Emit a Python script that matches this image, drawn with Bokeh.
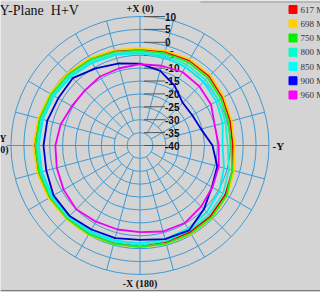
import numpy as np
from bokeh.plotting import figure
from bokeh.models import Range1d
from bokeh.core.properties import value
from bokeh.embed import file_html
from bokeh.resources import INLINE

# ---- data (dB, angle in degrees counter-clockwise from +X at top) ----
angles = [0, 15, 30, 45, 60, 75, 90, 105, 120, 135, 150, 165,
          180, 195, 210, 225, 240, 255, 270, 285, 300, 315, 330, 345]
series_names = ["617 MHz", "698 MHz", "750 MHz", "800 MHz", "850 MHz", "900 MHz", "960 MHz"]
series_colors = ["#ff0000", "#ffd000", "#00f000", "#00ffcc", "#00ffff", "#0000ff", "#ff00ff"]
line_colors = ["#e00000", "#ffd000", "#20ee20", "#20f0c8", "#00f0f0", "#0000cc", "#f000f0"]
db_617 = [-2.7, -2.0, -1.3, -0.7, -0.1, 0.4, 0.8, 0.8, 0.5, 0.0, -0.5, -0.9,
          -1.1, -1.1, -1.2, -1.3, -1.8, -2.9, -4.0, -3.8, -3.0, -2.0, -1.9, -2.3]
db_698 = [-2.3, -1.6, -0.9, -0.3, 0.2, 0.8, 1.3, 1.2, 0.9, 0.4, 0.0, -0.4,
          -0.6, -0.5, -0.3, -0.4, -1.0, -2.2, -3.4, -3.2, -2.5, -1.5, -1.4, -1.9]
db_750 = [-3.2, -2.4, -1.6, -0.9, -0.3, 0.2, 0.5, 0.5, 0.3, 0.0, -0.3, -0.5,
          -0.6, -0.6, -0.6, -0.7, -1.2, -3.0, -4.7, -4.5, -3.8, -2.9, -2.7, -3.0]
db_800 = [-3.8, -3.0, -2.3, -1.6, -1.0, -0.5, -0.2, -0.2, -0.3, -0.6, -1.0, -1.3,
          -1.4, -1.6, -1.9, -2.2, -2.8, -4.3, -6.0, -5.7, -4.8, -4.0, -3.8, -3.8]
db_850 = [-4.3, -3.6, -3.0, -2.2, -1.5, -1.0, -0.8, -0.7, -0.8, -1.2, -1.6, -1.9,
          -2.1, -2.4, -2.8, -3.4, -4.5, -6.3, -8.0, -6.8, -5.8, -5.2, -4.8, -4.5]
db_900 = [-8.3, -7.1, -5.5, -3.1, -3.4, -2.8, -2.6, -2.4, -1.3, -1.4, -2.4, -2.8,
          -3.4, -2.4, -2.0, -5.0, -7.8, -9.0, -11.9, -15.5, -16.6, -16.6, -13.2, -10.0]
db_960 = [-8.5, -9.0, -9.1, -9.8, -9.5, -8.2, -7.2, -6.6, -5.8, -5.0, -5.9, -6.3,
          -6.4, -5.5, -5.3, -6.5, -7.6, -8.4, -9.5, -10.0, -8.2, -7.5, -7.1, -8.0]
series_db = [db_617, db_698, db_750, db_800, db_850, db_900, db_960]
ring_labels = ["10", "5", "0", "-5", "-10", "-15", "-20", "-25", "-30", "-35", "-40"]
ring_values = [10, 5, 0, -5, -10, -15, -20, -25, -30, -35, -40]

W, H = 320, 292
CX, CYP = 139.5, 145.0           # centre (pixel coordinates from top-left)
CY = H - CYP
RMIN, RMAX = -40.0, 10.0
ROUT = 129.0
K = ROUT / (RMAX - RMIN)
BG = "#d4d4d4"
GRID = "#3f9ad6"

def polar(db, ang):
    r = (np.asarray(db, float) - RMIN) * K
    t = np.radians(np.asarray(ang, float))
    return CX - r * np.sin(t), CY + r * np.cos(t)

p = figure(width=W, height=H, x_range=Range1d(0, W), y_range=Range1d(0, H),
           x_axis_type=None, y_axis_type=None, toolbar_location=None,
           output_backend="svg", min_border=0, background_fill_color=BG,
           border_fill_color=BG, outline_line_color=None)
p.grid.visible = False

# rings
ring_r = [(v - RMIN) * K for v in ring_values if v > RMIN]
p.circle(x=[CX] * len(ring_r), y=[CY] * len(ring_r), radius=ring_r,
         fill_color=None, line_color=GRID, line_width=1)

# spokes
xs, ys = [], []
for a in range(0, 360, 15):
    if a % 90 == 0:
        r0 = 0.0
    elif a % 30 == 0:
        r0 = K * 5
    else:
        r0 = K * 10
    r1 = ROUT + (4 if a == 90 else 0)
    t = np.radians(a)
    xs.append([CX - r0 * np.sin(t), CX - r1 * np.sin(t)])
    ys.append([CY + r0 * np.cos(t), CY + r1 * np.cos(t)])
p.multi_line(xs, ys, line_color=GRID, line_width=1)

# ring scale ticks and labels
for lab, v in zip(ring_labels, ring_values):
    yy = CY + (v - RMIN) * K
    p.line([CX + 4, CX + 25], [yy, yy], line_color="#555555", line_width=1)
p.text(x=[CX + 25] * len(ring_labels), y=[CY + (v - RMIN) * K for v in ring_values],
       text=ring_labels, text_font=value("Liberation Sans"), text_font_size="10px",
       text_font_style="bold", text_baseline="middle", text_align="left", text_color="#111111")

# data curves
for db, col in zip(series_db, line_colors):
    x, y = polar(db + [db[0]], angles + [angles[0] + 360])
    p.line(x, y, line_color=col, line_width=1.8)

# titles / axis names
p.text(x=[-1], y=[H - 10], text=["Y-Plane\u00a0\u00a0H+V"], text_font=value("Liberation Serif"),
       text_font_size="14px", text_baseline="middle", text_color="#111111")
p.text(x=[CX], y=[H - 8], text=["+X (0)"], text_font=value("Liberation Serif"),
       text_font_size="10px", text_font_style="bold", text_align="center",
       text_baseline="middle", text_color="#111111")
p.text(x=[CX], y=[H - 283], text=["-X (180)"], text_font=value("Liberation Serif"),
       text_font_size="10px", text_font_style="bold", text_align="center",
       text_baseline="middle", text_color="#111111")
p.text(x=[272], y=[CY], text=["-Y"], text_font=value("Liberation Serif"),
       text_font_size="11px", text_font_style="bold", text_align="left",
       text_baseline="middle", text_color="#111111")
p.text(x=[6, 8], y=[H - 138, H - 149], text=["+Y", "(90)"], text_font=value("Liberation Serif"),
       text_font_size="10px", text_font_style="bold", text_align="right",
       text_baseline="middle", text_color="#111111")

# legend
ly = [H - (9 + 14.25 * i) for i in range(len(series_names))]
p.scatter(x=[292.5] * len(ly), y=ly, marker="square", size=8, fill_color=series_colors,
          line_color=series_colors)
p.text(x=[300] * len(ly), y=ly, text=series_names, text_font=value("Liberation Serif"),
       text_font_size="9px", text_baseline="middle", text_color="#333333")

# frame lines
p.line([0, W], [H - 290, H - 290], line_color="#7a7a7a", line_width=1)
p.line([200, W], [H - 1.5, H - 1.5], line_color="#9a9a9a", line_width=1)

open("out.html", "w").write(file_html(p, INLINE))
